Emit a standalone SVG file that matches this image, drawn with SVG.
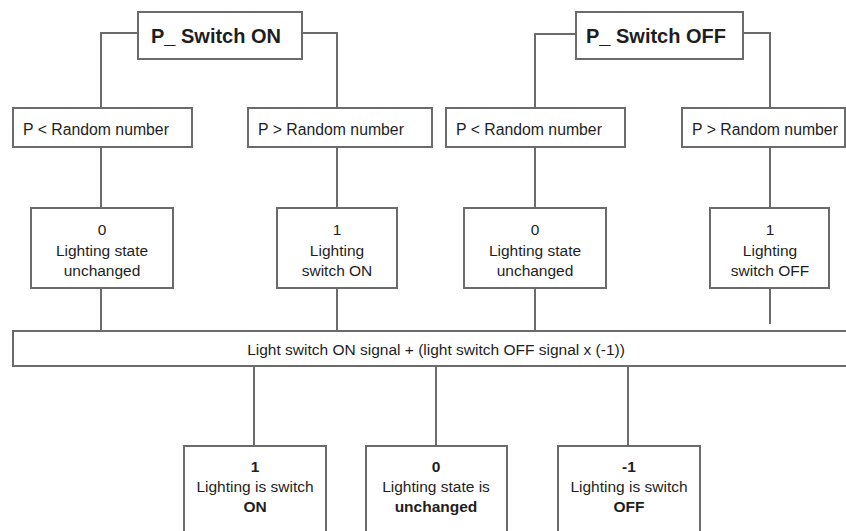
<svg xmlns="http://www.w3.org/2000/svg" width="846" height="531" viewBox="0 0 846 531">
<style>
.box{fill:#ffffff;stroke:#6b6b6b;stroke-width:2}
.ln{fill:none;stroke:#6b6b6b;stroke-width:2}
text{font-family:"Liberation Sans",Arial,sans-serif;font-size:15.5px;fill:#1e1e1e}
.t{font-size:20px;font-weight:bold}
.c{text-anchor:middle}
.b{font-weight:bold}
.r{font-size:15.8px}
</style>
<rect width="846" height="531" fill="#ffffff"/>
<g id="connectors">
<path class="ln" d="M138 33H101V108M101 147V208M101 288V331"/>
<path class="ln" d="M302 33H337V108M337 147V208M337 288V333"/>
<path class="ln" d="M576 34H535V108M535 147V208M535 288V331"/>
<path class="ln" d="M743 33H770V108M770 147V208M770 288V324"/>
<path class="ln" d="M254 366V446M436 366V446M628 366V446"/>
</g>
<g id="p-switch-on"><rect class="box" x="138" y="12" width="164" height="47"/><text class="t c" x="216" y="43">P_ Switch ON</text></g>
<g id="p-switch-off"><rect class="box" x="576" y="12" width="167" height="47"/><text class="t c" x="656" y="43">P_ Switch OFF</text></g>
<g id="on-less"><rect class="box" x="13" y="108" width="179" height="39"/><text class="r" x="23" y="135">P &lt; Random number</text></g>
<g id="on-greater"><rect class="box" x="248" y="108" width="184" height="39"/><text class="r" x="258" y="135">P &gt; Random number</text></g>
<g id="off-less"><rect class="box" x="446" y="108" width="179" height="39"/><text class="r" x="456" y="135">P &lt; Random number</text></g>
<g id="off-greater"><rect class="box" x="682" y="108" width="163" height="39"/><text class="r" x="692" y="135">P &gt; Random number</text></g>
<g id="on-zero"><rect class="box" x="31" y="208" width="142" height="80"/><text class="c" x="102" y="235">0</text><text class="c" x="102" y="256">Lighting state</text><text class="c" x="102" y="276">unchanged</text></g>
<g id="on-one"><rect class="box" x="277" y="208" width="120" height="80"/><text class="c" x="337" y="235">1</text><text class="c" x="337" y="256">Lighting</text><text class="c" x="337" y="276">switch ON</text></g>
<g id="off-zero"><rect class="box" x="464" y="208" width="142" height="80"/><text class="c" x="535" y="235">0</text><text class="c" x="535" y="256">Lighting state</text><text class="c" x="535" y="276">unchanged</text></g>
<g id="off-one"><rect class="box" x="710" y="208" width="119" height="80"/><text class="c" x="770" y="235">1</text><text class="c" x="770" y="256">Lighting</text><text class="c" x="770" y="276">switch OFF</text></g>
<g id="signal"><rect class="box" x="13" y="331" width="840" height="35"/><text class="c" x="436" y="355">Light switch ON signal + (light switch OFF signal x (-1))</text></g>
<g id="result-on"><rect class="box" x="184" y="446" width="142" height="100"/><text class="c b" x="255" y="472">1</text><text class="c" x="255" y="492">Lighting is switch</text><text class="c b" x="255" y="512">ON</text></g>
<g id="result-unchanged"><rect class="box" x="366" y="446" width="141" height="100"/><text class="c b" x="436" y="472">0</text><text class="c" x="436" y="492">Lighting state is</text><text class="c b" x="436" y="512">unchanged</text></g>
<g id="result-off"><rect class="box" x="558" y="446" width="142" height="100"/><text class="c b" x="629" y="472">-1</text><text class="c" x="629" y="492">Lighting is switch</text><text class="c b" x="629" y="512">OFF</text></g>
</svg>
